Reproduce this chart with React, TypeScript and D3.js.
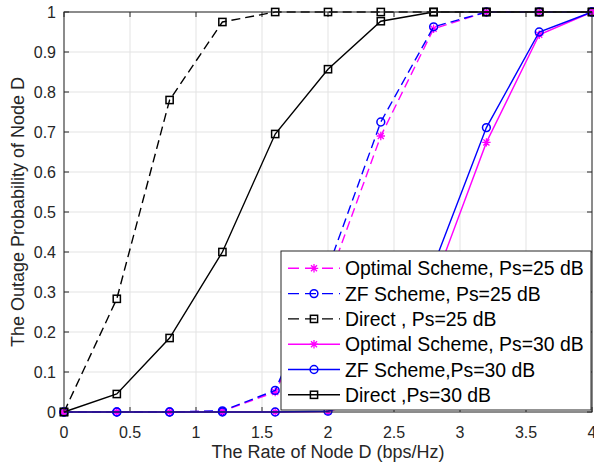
import React from "react";
import * as d3 from "d3";

const rates = [0, 0.4, 0.8, 1.2, 1.6, 2.0, 2.4, 2.8, 3.2, 3.6, 4.0];
const optimal25 = [0, 0, 0, 0.002, 0.05, 0.327, 0.69, 0.958, 1, 1, 1];
const zf25 = [0, 0, 0, 0.003, 0.054, 0.36, 0.725, 0.963, 1, 1, 1];
const direct25 = [0, 0.283, 0.78, 0.975, 1, 1, 1, 1, 1, 1, 1];
const optimal30 = [0, 0, 0, 0, 0, 0.001, 0.04, 0.32, 0.674, 0.943, 1];
const zf30 = [0, 0, 0, 0, 0, 0.002, 0.05, 0.367, 0.711, 0.95, 1];
const direct30 = [0, 0.045, 0.185, 0.4, 0.695, 0.857, 0.977, 1, 1, 1, 1];

const xTicks = [0, 0.5, 1, 1.5, 2, 2.5, 3, 3.5, 4];
const yTicks = [0, 0.1, 0.2, 0.3, 0.4, 0.5, 0.6, 0.7, 0.8, 0.9, 1];

const seriesNames = [
  "Optimal Scheme, Ps=25 dB",
  "ZF Scheme, Ps=25 dB",
  "Direct , Ps=25 dB",
  "Optimal Scheme, Ps=30 dB",
  "ZF Scheme,Ps=30 dB",
  "Direct ,Ps=30 dB",
];

type Series = { name: string; values: number[]; color: string; dashed: boolean; marker: string };

const series: Series[] = [
  { name: seriesNames[0], values: optimal25, color: "#ff00ff", dashed: true, marker: "star" },
  { name: seriesNames[1], values: zf25, color: "#0000ff", dashed: true, marker: "circle" },
  { name: seriesNames[2], values: direct25, color: "#000000", dashed: true, marker: "square" },
  { name: seriesNames[3], values: optimal30, color: "#ff00ff", dashed: false, marker: "star" },
  { name: seriesNames[4], values: zf30, color: "#0000ff", dashed: false, marker: "circle" },
  { name: seriesNames[5], values: direct30, color: "#000000", dashed: false, marker: "square" },
];

const W = 594;
const H = 463;
const L = 64;
const R = 592;
const T = 12;
const B = 412;
const FONT = "'Liberation Sans', Arial, sans-serif";
const AX = "#262626";
const DASH = "9,5";

function Marker({ type, x, y, color }: { type: string; x: number; y: number; color: string }) {
  if (type === "circle") {
    return <circle cx={x} cy={y} r={3.9} fill="none" stroke={color} strokeWidth={1.5} />;
  }
  if (type === "square") {
    return <rect x={x - 3.6} y={y - 3.6} width={7.2} height={7.2} fill="none" stroke={color} strokeWidth={1.5} />;
  }
  const s = 4.2;
  const d = s * 0.72;
  return (
    <path
      d={`M${x - s},${y}L${x + s},${y}M${x},${y - s}L${x},${y + s}M${x - d},${y - d}L${x + d},${y + d}M${x - d},${y + d}L${x + d},${y - d}`}
      stroke={color}
      strokeWidth={1.3}
      fill="none"
    />
  );
}

export default function App() {
  const x = d3.scaleLinear().domain([0, 4]).range([L, R]);
  const y = d3.scaleLinear().domain([0, 1]).range([B, T]);
  const line = d3
    .line<number>()
    .x((_, i) => x(rates[i]))
    .y((v) => y(v));

  const legX = 281;
  const legY = 251;
  const legW = 310;
  const legH = 159;
  const rowH = 25.3;
  const row0 = 268.3;

  return (
    <svg width={W} height={H} style={{ position: "absolute", left: 0, top: 0, background: "#fff" }}>
      <rect x={0} y={0} width={W} height={H} fill="#fff" />
      {xTicks.map((t) => (
        <line key={"gx" + t} x1={x(t)} x2={x(t)} y1={T} y2={B} stroke="#e3e3e3" strokeWidth={1} />
      ))}
      {yTicks.map((t) => (
        <line key={"gy" + t} x1={L} x2={R} y1={y(t)} y2={y(t)} stroke="#e3e3e3" strokeWidth={1} />
      ))}
      {xTicks.map((t) => (
        <g key={"tx" + t}>
          <line x1={x(t)} x2={x(t)} y1={B} y2={B - 5} stroke={AX} />
          <line x1={x(t)} x2={x(t)} y1={T} y2={T + 5} stroke={AX} />
          <text x={x(t)} y={438} textAnchor="middle" fontFamily={FONT} fontSize={16} fill={AX}>
            {t}
          </text>
        </g>
      ))}
      {yTicks.map((t) => (
        <g key={"ty" + t}>
          <line x1={L} x2={L + 5} y1={y(t)} y2={y(t)} stroke={AX} />
          <line x1={R} x2={R - 5} y1={y(t)} y2={y(t)} stroke={AX} />
          <text x={56} y={y(t) + 5.8} textAnchor="end" fontFamily={FONT} fontSize={16} fill={AX}>
            {t}
          </text>
        </g>
      ))}
      {series.map((s) => (
        <g key={s.name}>
          <path
            d={line(s.values) || ""}
            fill="none"
            stroke={s.color}
            strokeWidth={1.4}
            strokeDasharray={s.dashed ? DASH : undefined}
          />
          {s.values.map((v, i) => (
            <Marker key={i} type={s.marker} x={x(rates[i])} y={y(v)} color={s.color} />
          ))}
        </g>
      ))}
      <rect x={L} y={T} width={R - L} height={B - T} fill="none" stroke={AX} strokeWidth={1} />
      <text x={(L + R) / 2} y={458} textAnchor="middle" fontFamily={FONT} fontSize={18} fill={AX}>
        The Rate of Node D (bps/Hz)
      </text>
      <text
        transform={`translate(24,${(T + B) / 2}) rotate(-90)`}
        textAnchor="middle"
        fontFamily={FONT}
        fontSize={18}
        fill={AX}
      >
        The Outage Probability of Node D
      </text>
      <rect x={legX} y={legY} width={legW} height={legH} fill="#fff" stroke={AX} strokeWidth={1} />
      {series.map((s, i) => {
        const cy = row0 + i * rowH;
        return (
          <g key={"leg" + i}>
            <line
              x1={288}
              x2={340}
              y1={cy}
              y2={cy}
              stroke={s.color}
              strokeWidth={1.4}
              strokeDasharray={s.dashed ? "11,6" : undefined}
            />
            <Marker type={s.marker} x={314} y={cy} color={s.color} />
            <text x={345} y={cy + 7} fontFamily={FONT} fontSize={19.4} fill="#000">
              {s.name}
            </text>
          </g>
        );
      })}
    </svg>
  );
}
